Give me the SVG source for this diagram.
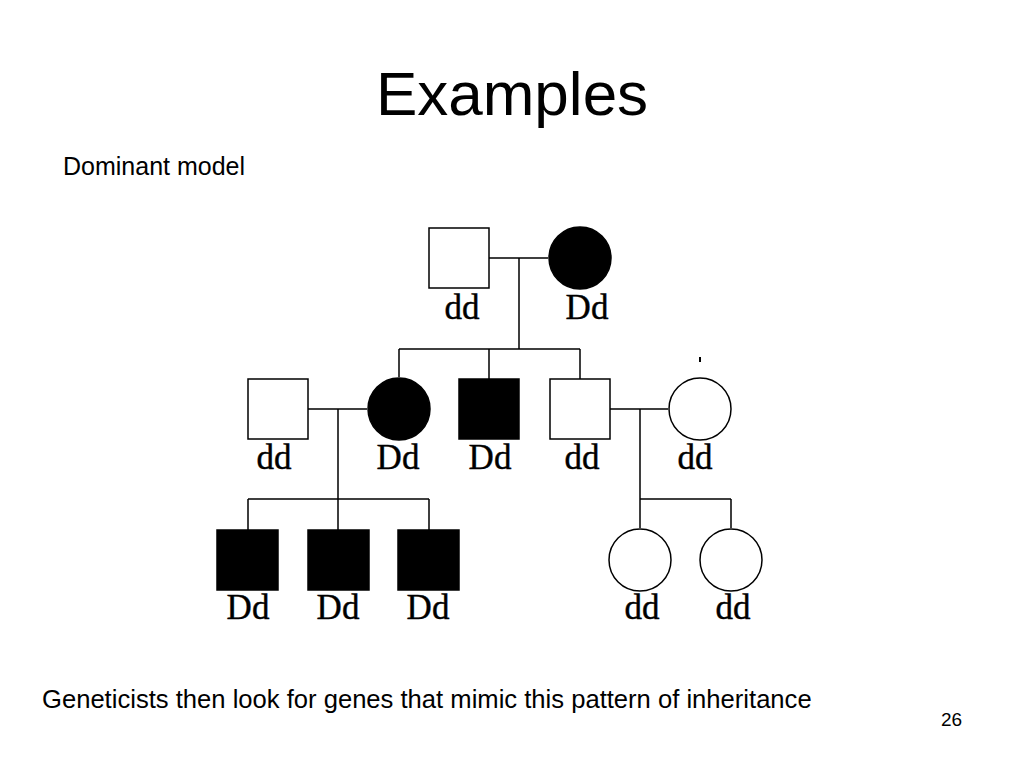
<svg xmlns="http://www.w3.org/2000/svg" width="1024" height="768" viewBox="0 0 1024 768">
<style>
.sans{font-family:"Liberation Sans",Arial,sans-serif;fill:#000}
.lbl{font-family:"Liberation Serif","Times New Roman",serif;font-size:35px;fill:#000;stroke:#000;stroke-width:0.4;text-anchor:middle}
.open{fill:#fff;stroke:#000;stroke-width:1.5}
.aff{fill:#000;stroke:#000;stroke-width:1.5}
.ln{stroke:#000;stroke-width:1.5;fill:none}
</style>
<rect width="1024" height="768" fill="#fff"/>
<text class="sans" x="512" y="115" font-size="62" text-anchor="middle">Examples</text>
<text class="sans" x="63" y="175" font-size="25">Dominant model</text>
<text class="sans" x="42" y="708" font-size="25.6">Geneticists then look for genes that mimic this pattern of inheritance</text>
<text class="sans" x="941" y="726" font-size="19">26</text>

<g id="connectors">
<path class="ln" d="M489 258H548M519 258V349M399 349H580M399 349V377M489 349V379M580 349V379"/>
<path class="ln" d="M308 409H367M338 409V499M248 499H429M248 499V530M338 499V530M429 499V530"/>
<path class="ln" d="M610 409H668M640 409V499M640 499H731M640 499V528M731 499V528"/>
</g>

<g id="g1-father"><rect class="open" x="429" y="228" width="60" height="60"/><text class="lbl" x="462" y="319">dd</text></g>
<g id="g1-mother"><circle class="aff" cx="580" cy="258" r="31"/><text class="lbl" x="587" y="319">Dd</text></g>

<g id="g2-husband"><rect class="open" x="248" y="379" width="60" height="60"/><text class="lbl" x="274" y="469">dd</text></g>
<g id="g2-daughter"><circle class="aff" cx="399" cy="409" r="31"/><text class="lbl" x="398" y="469">Dd</text></g>
<g id="g2-son"><rect class="aff" x="459" y="379" width="60" height="60"/><text class="lbl" x="490" y="469">Dd</text></g>
<g id="g2-son2"><rect class="open" x="550" y="379" width="60" height="60"/><text class="lbl" x="582" y="469">dd</text></g>
<g id="g2-wife"><circle class="open" cx="700" cy="409" r="31"/><rect x="699" y="357" width="2" height="5" fill="#000"/><text class="lbl" x="695" y="469">dd</text></g>

<g id="g3-son1"><rect class="aff" x="217" y="530" width="61" height="60"/><text class="lbl" x="248" y="619">Dd</text></g>
<g id="g3-son2"><rect class="aff" x="308" y="530" width="61" height="60"/><text class="lbl" x="338" y="619">Dd</text></g>
<g id="g3-son3"><rect class="aff" x="398" y="530" width="61" height="60"/><text class="lbl" x="428" y="619">Dd</text></g>
<g id="g3-dau1"><circle class="open" cx="640" cy="560" r="31"/><text class="lbl" x="642" y="619">dd</text></g>
<g id="g3-dau2"><circle class="open" cx="731" cy="560" r="31"/><text class="lbl" x="733" y="619">dd</text></g>
</svg>
